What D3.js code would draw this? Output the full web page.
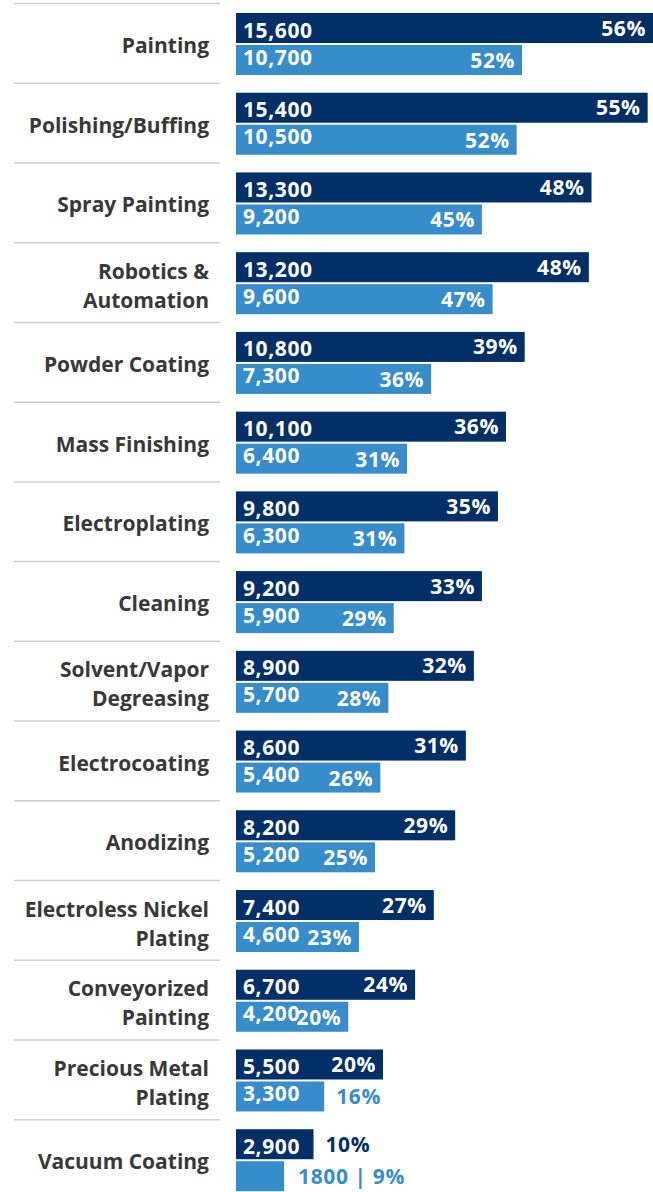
<!DOCTYPE html>
<html>
<head>
<meta charset="utf-8">
<script src="https://cdn.jsdelivr.net/npm/d3@7"></script>
<style>
  html, body { margin: 0; padding: 0; background: #fff; }
  svg { display: block; font-family: "Open Sans", "Noto Sans", sans-serif; font-weight: 700; }
</style>
</head>
<body>
<div id="chart"></div>
<script>
const categories = [
  "Painting", "Polishing/Buffing", "Spray Painting", "Robotics &\nAutomation",
  "Powder Coating", "Mass Finishing", "Electroplating", "Cleaning",
  "Solvent/Vapor\nDegreasing", "Electrocoating", "Anodizing",
  "Electroless Nickel\nPlating", "Conveyorized\nPainting", "Precious Metal\nPlating",
  "Vacuum Coating"
];
const darkValues = [15600, 15400, 13300, 13200, 10800, 10100, 9800, 9200, 8900, 8600, 8200, 7400, 6700, 5500, 2900];
const darkPercents = [56, 55, 48, 48, 39, 36, 35, 33, 32, 31, 29, 27, 24, 20, 10];
const lightValues = [10700, 10500, 9200, 9600, 7300, 6400, 6300, 5900, 5700, 5400, 5200, 4600, 4200, 3300, 1800];
const lightPercents = [52, 52, 45, 47, 36, 31, 31, 29, 28, 26, 25, 23, 20, 16, 9];

const width = 653, height = 1192;
const darkColor = "#012f66", lightColor = "#378dcb";

const svg = d3.select("#chart").append("svg")
  .attr("width", width)
  .attr("height", height);

const x = d3.scaleLinear().domain([0, 15600]).range([236, 653]);
const y = d3.scaleBand().domain(categories).range([3, 3 + categories.length * 79.73]);
const inner = d3.scaleBand().domain(["dark", "light"]).range([10, 72]).paddingInner(0.0625);

const fmt = d3.format(",");

const rows = svg.selectAll(".row")
  .data(categories.map((c, i) => ({
    cat: c,
    series: [
      { key: "dark", value: darkValues[i], pct: darkPercents[i] },
      { key: "light", value: lightValues[i], pct: lightPercents[i] }
    ]
  })))
  .enter().append("g")
  .attr("class", "row")
  .attr("transform", (d) => `translate(0,${y(d.cat)})`);

// separator above each row
rows.append("line")
  .attr("x1", 14).attr("x2", 220)
  .attr("y1", 0.5).attr("y2", 0.5)
  .attr("stroke", "#cfcfcf")
  .attr("stroke-width", 1.5);

// category label, one or two lines
rows.append("text")
  .attr("text-anchor", "end")
  .attr("fill", "#383838")
  .style("font-size", "21px")
  .each(function(d) {
    const lines = d.cat.split("\n");
    const base = lines.length === 1 ? 50 : 36.5;
    d3.select(this).selectAll("tspan")
      .data(lines)
      .enter().append("tspan")
      .attr("x", 209)
      .attr("y", (l, j) => base + j * 29)
      .text((l) => l);
  });

const bars = rows.selectAll(".bar")
  .data((d) => d.series)
  .enter().append("g")
  .attr("class", "bar")
  .attr("transform", (s) => `translate(0,${inner(s.key)})`);

bars.append("rect")
  .attr("x", x(0))
  .attr("y", 0)
  .attr("width", (s) => x(s.value) - x(0))
  .attr("height", inner.bandwidth())
  .attr("fill", (s) => s.key === "dark" ? darkColor : lightColor);

const fontSize = "21px";
const spacing = "0.6px";

// value inside bar
bars.filter((s) => x(s.value) - x(0) > 60)
  .append("text")
  .attr("x", x(0) + 7)
  .attr("y", (s) => s.key === "dark" ? 24.5 : 19.5)
  .attr("fill", "#fff")
  .style("font-size", fontSize)
  .style("letter-spacing", spacing)
  .text((s) => fmt(s.value));

// percent: inside when there is room, otherwise after the bar
bars.filter((s) => x(s.value) - x(0) > 60)
  .append("text")
  .each(function(s) {
    const w = x(s.value) - x(0);
    const t = d3.select(this)
      .style("font-size", fontSize)
      .style("letter-spacing", spacing)
      .text(s.pct + "%");
    if (w > 100) {
      t.attr("x", x(s.value) - 7)
        .attr("y", s.key === "dark" ? 22.5 : 23)
        .attr("text-anchor", "end")
        .attr("fill", "#fff");
    } else {
      t.attr("x", x(s.value) + 12)
        .attr("y", 23)
        .attr("fill", s.key === "dark" ? darkColor : lightColor);
    }
  });

// too short for any text inside: combined label after bar
bars.filter((s) => x(s.value) - x(0) <= 60)
  .append("text")
  .attr("x", (s) => x(s.value) + 14)
  .attr("y", 23)
  .attr("fill", (s) => s.key === "dark" ? darkColor : lightColor)
  .style("font-size", fontSize)
  .style("letter-spacing", spacing)
  .text((s) => `${s.value} | ${s.pct}%`);
</script>
</body>
</html>
